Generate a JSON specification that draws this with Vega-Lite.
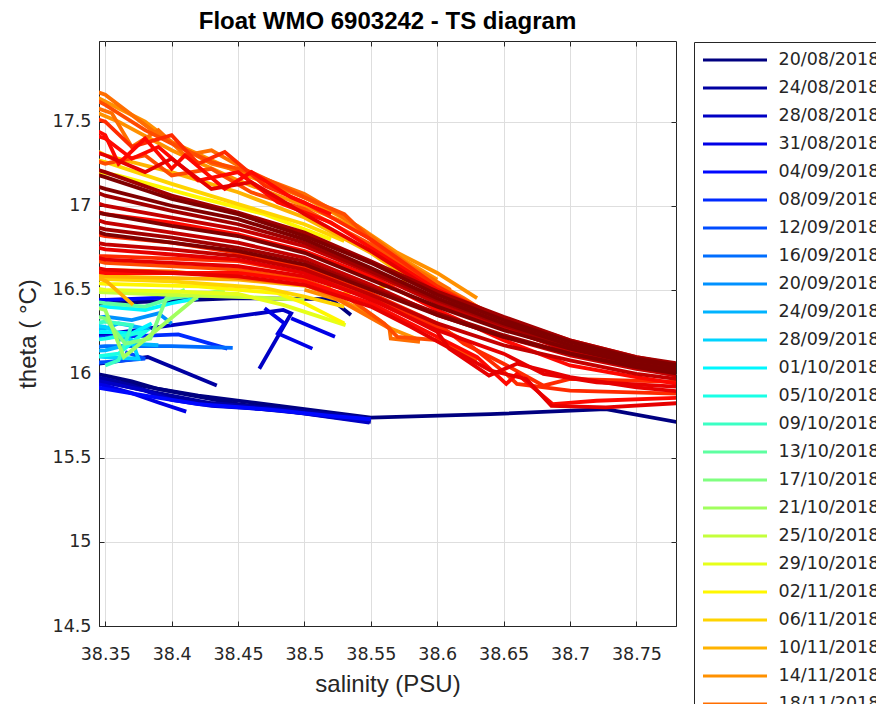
{
"$schema": "https://vega.github.io/schema/vega-lite/v6.json",
"autosize": {"type": "none"},
"width": 577, "height": 585,
"padding": {"left": 99, "top": 41, "right": 200, "bottom": 78},
"background": "white",
"title": {"text": "Float WMO 6903242 - TS diagram", "font": "Liberation Sans", "fontSize": 24, "fontWeight": "bold", "color": "#000000", "offset": 7, "anchor": "middle"},
"config": {
  "view": {"stroke": "#262626", "strokeWidth": 1},
  "axis": {"domainColor": "#262626", "tickColor": "#262626", "labelColor": "#262626", "titleColor": "#262626", "gridColor": "#dedede", "gridWidth": 1, "tickSize": -5, "labelFont": "DejaVu Sans", "labelFontSize": 17.5, "titleFont": "Liberation Sans", "titleFontSize": 24, "titleFontWeight": "normal"}
},
"data": {"values": [
{"d":"20/08/2018","g":"0a","s":38.33,"t":16.02},{"d":"20/08/2018","g":"0a","s":38.35,"t":15.99},{"d":"20/08/2018","g":"0a","s":38.37,"t":15.955},{"d":"20/08/2018","g":"0a","s":38.39,"t":15.91},{"d":"20/08/2018","g":"0a","s":38.42,"t":15.87},{"d":"20/08/2018","g":"0a","s":38.46,"t":15.83},{"d":"20/08/2018","g":"0a","s":38.5,"t":15.79},{"d":"20/08/2018","g":"0a","s":38.55,"t":15.74},{"d":"20/08/2018","g":"0a","s":38.64,"t":15.76},{"d":"20/08/2018","g":"0a","s":38.727,"t":15.79},{"d":"20/08/2018","g":"0a","s":38.79,"t":15.7},
{"d":"20/08/2018","g":"0b","s":38.33,"t":16.41},{"d":"20/08/2018","g":"0b","s":38.35,"t":16.42},{"d":"20/08/2018","g":"0b","s":38.45,"t":16.45},{"d":"20/08/2018","g":"0b","s":38.52,"t":16.445},{"d":"20/08/2018","g":"0b","s":38.535,"t":16.35},
{"d":"20/08/2018","g":"0c","s":38.33,"t":15.99},{"d":"20/08/2018","g":"0c","s":38.35,"t":15.965},{"d":"20/08/2018","g":"0c","s":38.38,"t":15.925},{"d":"20/08/2018","g":"0c","s":38.41,"t":15.88},{"d":"20/08/2018","g":"0c","s":38.45,"t":15.82},{"d":"20/08/2018","g":"0c","s":38.5,"t":15.775},{"d":"20/08/2018","g":"0c","s":38.548,"t":15.725},
{"d":"24/08/2018","g":"1a","s":38.33,"t":16.0},{"d":"24/08/2018","g":"1a","s":38.35,"t":15.97},{"d":"24/08/2018","g":"1a","s":38.37,"t":15.93},{"d":"24/08/2018","g":"1a","s":38.39,"t":15.875},{"d":"24/08/2018","g":"1a","s":38.42,"t":15.835},{"d":"24/08/2018","g":"1a","s":38.45,"t":15.805},{"d":"24/08/2018","g":"1a","s":38.5,"t":15.765},{"d":"24/08/2018","g":"1a","s":38.55,"t":15.715},
{"d":"24/08/2018","g":"1b","s":38.33,"t":16.05},{"d":"24/08/2018","g":"1b","s":38.35,"t":16.065},{"d":"24/08/2018","g":"1b","s":38.382,"t":16.1},{"d":"24/08/2018","g":"1b","s":38.434,"t":15.93},
{"d":"24/08/2018","g":"1c","s":38.33,"t":15.975},{"d":"24/08/2018","g":"1c","s":38.36,"t":15.935},{"d":"24/08/2018","g":"1c","s":38.39,"t":15.885},{"d":"24/08/2018","g":"1c","s":38.43,"t":15.825},{"d":"24/08/2018","g":"1c","s":38.49,"t":15.785},{"d":"24/08/2018","g":"1c","s":38.545,"t":15.74},
{"d":"28/08/2018","g":"2a","s":38.33,"t":15.98},{"d":"28/08/2018","g":"2a","s":38.35,"t":15.95},{"d":"28/08/2018","g":"2a","s":38.38,"t":15.9},{"d":"28/08/2018","g":"2a","s":38.4,"t":15.845},{"d":"28/08/2018","g":"2a","s":38.43,"t":15.81},{"d":"28/08/2018","g":"2a","s":38.48,"t":15.785},{"d":"28/08/2018","g":"2a","s":38.549,"t":15.71},
{"d":"28/08/2018","g":"2b","s":38.33,"t":16.22},{"d":"28/08/2018","g":"2b","s":38.346,"t":16.23},{"d":"28/08/2018","g":"2b","s":38.484,"t":16.38},{"d":"28/08/2018","g":"2b","s":38.49,"t":16.36},{"d":"28/08/2018","g":"2b","s":38.466,"t":16.03},
{"d":"31/08/2018","g":"3a","s":38.33,"t":15.96},{"d":"31/08/2018","g":"3a","s":38.35,"t":15.93},{"d":"31/08/2018","g":"3a","s":38.37,"t":15.885},{"d":"31/08/2018","g":"3a","s":38.39,"t":15.83},{"d":"31/08/2018","g":"3a","s":38.411,"t":15.775},
{"d":"31/08/2018","g":"3b","s":38.47,"t":16.39},{"d":"31/08/2018","g":"3b","s":38.485,"t":16.3},{"d":"31/08/2018","g":"3b","s":38.48,"t":16.24},{"d":"31/08/2018","g":"3b","s":38.506,"t":16.15},
{"d":"31/08/2018","g":"3c","s":38.49,"t":16.33},{"d":"31/08/2018","g":"3c","s":38.523,"t":16.22},
{"d":"04/09/2018","g":"4a","s":38.33,"t":15.94},{"d":"04/09/2018","g":"4a","s":38.35,"t":15.91},{"d":"04/09/2018","g":"4a","s":38.38,"t":15.87},{"d":"04/09/2018","g":"4a","s":38.42,"t":15.82},{"d":"04/09/2018","g":"4a","s":38.47,"t":15.79},{"d":"04/09/2018","g":"4a","s":38.52,"t":15.75},{"d":"04/09/2018","g":"4a","s":38.55,"t":15.73},
{"d":"04/09/2018","g":"4b","s":38.33,"t":16.44},{"d":"04/09/2018","g":"4b","s":38.35,"t":16.44},{"d":"04/09/2018","g":"4b","s":38.4,"t":16.455},{"d":"04/09/2018","g":"4b","s":38.43,"t":16.47},
{"d":"08/09/2018","g":"5a","s":38.33,"t":16.2},{"d":"08/09/2018","g":"5a","s":38.346,"t":16.215},{"d":"08/09/2018","g":"5a","s":38.405,"t":16.235},{"d":"08/09/2018","g":"5a","s":38.442,"t":16.15},
{"d":"12/09/2018","g":"6a","s":38.33,"t":16.06},{"d":"12/09/2018","g":"6a","s":38.35,"t":16.07},{"d":"12/09/2018","g":"6a","s":38.38,"t":16.09},{"d":"12/09/2018","g":"6a","s":38.365,"t":16.13},
{"d":"16/09/2018","g":"7a","s":38.33,"t":16.15},{"d":"16/09/2018","g":"7a","s":38.35,"t":16.165},{"d":"16/09/2018","g":"7a","s":38.4,"t":16.165},{"d":"16/09/2018","g":"7a","s":38.446,"t":16.155},
{"d":"20/09/2018","g":"8a","s":38.33,"t":16.32},{"d":"20/09/2018","g":"8a","s":38.35,"t":16.34},{"d":"20/09/2018","g":"8a","s":38.37,"t":16.32},{"d":"20/09/2018","g":"8a","s":38.39,"t":16.36},{"d":"20/09/2018","g":"8a","s":38.4,"t":16.3},
{"d":"24/09/2018","g":"9a","s":38.33,"t":16.26},{"d":"24/09/2018","g":"9a","s":38.35,"t":16.27},{"d":"24/09/2018","g":"9a","s":38.36,"t":16.3},{"d":"24/09/2018","g":"9a","s":38.38,"t":16.27},{"d":"24/09/2018","g":"9a","s":38.36,"t":16.2},
{"d":"24/09/2018","g":"9b","s":38.33,"t":16.13},{"d":"24/09/2018","g":"9b","s":38.35,"t":16.14},{"d":"24/09/2018","g":"9b","s":38.37,"t":16.18},{"d":"24/09/2018","g":"9b","s":38.39,"t":16.17},
{"d":"28/09/2018","g":"10a","s":38.33,"t":16.11},{"d":"28/09/2018","g":"10a","s":38.35,"t":16.1},{"d":"28/09/2018","g":"10a","s":38.375,"t":16.09},{"d":"28/09/2018","g":"10a","s":38.37,"t":16.2},{"d":"28/09/2018","g":"10a","s":38.35,"t":16.28},{"d":"28/09/2018","g":"10a","s":38.33,"t":16.3},
{"d":"01/10/2018","g":"11a","s":38.33,"t":16.38},{"d":"01/10/2018","g":"11a","s":38.35,"t":16.4},{"d":"01/10/2018","g":"11a","s":38.38,"t":16.38},{"d":"01/10/2018","g":"11a","s":38.4,"t":16.42},{"d":"01/10/2018","g":"11a","s":38.42,"t":16.45},
{"d":"01/10/2018","g":"11b","s":38.33,"t":16.24},{"d":"01/10/2018","g":"11b","s":38.35,"t":16.25},{"d":"01/10/2018","g":"11b","s":38.37,"t":16.24},{"d":"01/10/2018","g":"11b","s":38.385,"t":16.3},
{"d":"05/10/2018","g":"12a","s":38.33,"t":16.19},{"d":"05/10/2018","g":"12a","s":38.35,"t":16.21},{"d":"05/10/2018","g":"12a","s":38.38,"t":16.25},{"d":"05/10/2018","g":"12a","s":38.36,"t":16.12},{"d":"05/10/2018","g":"12a","s":38.33,"t":16.09},
{"d":"09/10/2018","g":"13a","s":38.33,"t":16.29},{"d":"09/10/2018","g":"13a","s":38.35,"t":16.31},{"d":"09/10/2018","g":"13a","s":38.37,"t":16.29},{"d":"09/10/2018","g":"13a","s":38.36,"t":16.08},{"d":"09/10/2018","g":"13a","s":38.35,"t":16.05},
{"d":"13/10/2018","g":"14a","s":38.33,"t":16.44},{"d":"13/10/2018","g":"14a","s":38.35,"t":16.42},{"d":"13/10/2018","g":"14a","s":38.38,"t":16.4},{"d":"13/10/2018","g":"14a","s":38.4,"t":16.45},{"d":"13/10/2018","g":"14a","s":38.43,"t":16.48},
{"d":"17/10/2018","g":"15a","s":38.33,"t":16.36},{"d":"17/10/2018","g":"15a","s":38.35,"t":16.33},{"d":"17/10/2018","g":"15a","s":38.365,"t":16.18},{"d":"17/10/2018","g":"15a","s":38.384,"t":16.21},{"d":"17/10/2018","g":"15a","s":38.396,"t":16.45},{"d":"17/10/2018","g":"15a","s":38.41,"t":16.5},
{"d":"21/10/2018","g":"16a","s":38.33,"t":16.42},{"d":"21/10/2018","g":"16a","s":38.35,"t":16.38},{"d":"21/10/2018","g":"16a","s":38.364,"t":16.1},{"d":"21/10/2018","g":"16a","s":38.421,"t":16.47},{"d":"21/10/2018","g":"16a","s":38.44,"t":16.5},
{"d":"25/10/2018","g":"17a","s":38.33,"t":16.49},{"d":"25/10/2018","g":"17a","s":38.35,"t":16.485},{"d":"25/10/2018","g":"17a","s":38.4,"t":16.47},{"d":"25/10/2018","g":"17a","s":38.46,"t":16.455},{"d":"25/10/2018","g":"17a","s":38.5,"t":16.44},
{"d":"29/10/2018","g":"18a","s":38.33,"t":16.52},{"d":"29/10/2018","g":"18a","s":38.35,"t":16.5},{"d":"29/10/2018","g":"18a","s":38.4,"t":16.49},{"d":"29/10/2018","g":"18a","s":38.45,"t":16.475},{"d":"29/10/2018","g":"18a","s":38.484,"t":16.41},{"d":"29/10/2018","g":"18a","s":38.531,"t":16.29},
{"d":"02/11/2018","g":"19a","s":38.33,"t":16.55},{"d":"02/11/2018","g":"19a","s":38.35,"t":16.535},{"d":"02/11/2018","g":"19a","s":38.42,"t":16.52},{"d":"02/11/2018","g":"19a","s":38.48,"t":16.48},{"d":"02/11/2018","g":"19a","s":38.5,"t":16.42},{"d":"02/11/2018","g":"19a","s":38.53,"t":16.3},
{"d":"02/11/2018","g":"19b","s":38.33,"t":17.22},{"d":"02/11/2018","g":"19b","s":38.36,"t":17.18},{"d":"02/11/2018","g":"19b","s":38.42,"t":17.05},{"d":"02/11/2018","g":"19b","s":38.47,"t":16.95},{"d":"02/11/2018","g":"19b","s":38.5,"t":16.86},{"d":"02/11/2018","g":"19b","s":38.52,"t":16.8},
{"d":"06/11/2018","g":"20a","s":38.33,"t":16.57},{"d":"06/11/2018","g":"20a","s":38.4,"t":16.55},{"d":"06/11/2018","g":"20a","s":38.47,"t":16.51},{"d":"06/11/2018","g":"20a","s":38.5,"t":16.46},{"d":"06/11/2018","g":"20a","s":38.53,"t":16.4},
{"d":"06/11/2018","g":"20b","s":38.33,"t":17.3},{"d":"06/11/2018","g":"20b","s":38.35,"t":17.26},{"d":"06/11/2018","g":"20b","s":38.4,"t":17.13},{"d":"06/11/2018","g":"20b","s":38.45,"t":17.01},{"d":"06/11/2018","g":"20b","s":38.5,"t":16.89},{"d":"06/11/2018","g":"20b","s":38.53,"t":16.79},
{"d":"10/11/2018","g":"21a","s":38.33,"t":17.38},{"d":"10/11/2018","g":"21a","s":38.35,"t":17.3},{"d":"10/11/2018","g":"21a","s":38.4,"t":17.2},{"d":"10/11/2018","g":"21a","s":38.45,"t":17.08},{"d":"10/11/2018","g":"21a","s":38.5,"t":16.93},{"d":"10/11/2018","g":"21a","s":38.55,"t":16.72},{"d":"10/11/2018","g":"21a","s":38.58,"t":16.56},{"d":"10/11/2018","g":"21a","s":38.55,"t":16.5},{"d":"10/11/2018","g":"21a","s":38.52,"t":16.47},
{"d":"10/11/2018","g":"21b","s":38.33,"t":16.6},{"d":"10/11/2018","g":"21b","s":38.35,"t":16.58},{"d":"10/11/2018","g":"21b","s":38.45,"t":16.56},{"d":"10/11/2018","g":"21b","s":38.52,"t":16.51},
{"d":"10/11/2018","g":"21c","s":38.345,"t":16.57},{"d":"10/11/2018","g":"21c","s":38.351,"t":16.55},{"d":"10/11/2018","g":"21c","s":38.371,"t":16.41},
{"d":"14/11/2018","g":"22a","s":38.33,"t":17.7},{"d":"14/11/2018","g":"22a","s":38.35,"t":17.62},{"d":"14/11/2018","g":"22a","s":38.38,"t":17.5},{"d":"14/11/2018","g":"22a","s":38.4,"t":17.38},{"d":"14/11/2018","g":"22a","s":38.45,"t":17.2},{"d":"14/11/2018","g":"22a","s":38.5,"t":17.05},{"d":"14/11/2018","g":"22a","s":38.54,"t":16.88},{"d":"14/11/2018","g":"22a","s":38.57,"t":16.72},{"d":"14/11/2018","g":"22a","s":38.6,"t":16.6},{"d":"14/11/2018","g":"22a","s":38.63,"t":16.45},
{"d":"14/11/2018","g":"22b","s":38.5,"t":16.5},{"d":"14/11/2018","g":"22b","s":38.53,"t":16.43},{"d":"14/11/2018","g":"22b","s":38.55,"t":16.35},{"d":"14/11/2018","g":"22b","s":38.565,"t":16.27},{"d":"14/11/2018","g":"22b","s":38.587,"t":16.2},
{"d":"14/11/2018","g":"22c","s":38.33,"t":17.6},{"d":"14/11/2018","g":"22c","s":38.36,"t":17.5},{"d":"14/11/2018","g":"22c","s":38.4,"t":17.33},{"d":"14/11/2018","g":"22c","s":38.45,"t":17.15},{"d":"14/11/2018","g":"22c","s":38.5,"t":17.0},{"d":"14/11/2018","g":"22c","s":38.53,"t":16.9},{"d":"14/11/2018","g":"22c","s":38.56,"t":16.75},{"d":"14/11/2018","g":"22c","s":38.6,"t":16.56},
{"d":"18/11/2018","g":"23a","s":38.33,"t":17.72},{"d":"18/11/2018","g":"23a","s":38.35,"t":17.66},{"d":"18/11/2018","g":"23a","s":38.36,"t":17.6},{"d":"18/11/2018","g":"23a","s":38.39,"t":17.42},{"d":"18/11/2018","g":"23a","s":38.43,"t":17.25},{"d":"18/11/2018","g":"23a","s":38.46,"t":17.19},{"d":"18/11/2018","g":"23a","s":38.5,"t":17.07},{"d":"18/11/2018","g":"23a","s":38.526,"t":16.95},{"d":"18/11/2018","g":"23a","s":38.545,"t":16.85},{"d":"18/11/2018","g":"23a","s":38.565,"t":16.68},{"d":"18/11/2018","g":"23a","s":38.59,"t":16.58},{"d":"18/11/2018","g":"23a","s":38.62,"t":16.45},{"d":"18/11/2018","g":"23a","s":38.64,"t":16.35},
{"d":"18/11/2018","g":"23b","s":38.33,"t":16.62},{"d":"18/11/2018","g":"23b","s":38.4,"t":16.61},{"d":"18/11/2018","g":"23b","s":38.5,"t":16.53},{"d":"18/11/2018","g":"23b","s":38.519,"t":16.47},{"d":"18/11/2018","g":"23b","s":38.564,"t":16.27},{"d":"18/11/2018","g":"23b","s":38.565,"t":16.21},{"d":"18/11/2018","g":"23b","s":38.587,"t":16.19},
{"d":"18/11/2018","g":"23c","s":38.33,"t":17.62},{"d":"18/11/2018","g":"23c","s":38.355,"t":17.55},{"d":"18/11/2018","g":"23c","s":38.37,"t":17.35},{"d":"18/11/2018","g":"23c","s":38.39,"t":17.45},{"d":"18/11/2018","g":"23c","s":38.41,"t":17.3},{"d":"18/11/2018","g":"23c","s":38.43,"t":17.33},{"d":"18/11/2018","g":"23c","s":38.47,"t":17.15},{"d":"18/11/2018","g":"23c","s":38.52,"t":16.98},{"d":"18/11/2018","g":"23c","s":38.55,"t":16.82},{"d":"18/11/2018","g":"23c","s":38.58,"t":16.64},{"d":"18/11/2018","g":"23c","s":38.61,"t":16.5},
{"d":"22/11/2018","g":"24a","s":38.33,"t":17.68},{"d":"22/11/2018","g":"24a","s":38.35,"t":17.6},{"d":"22/11/2018","g":"24a","s":38.38,"t":17.45},{"d":"22/11/2018","g":"24a","s":38.4,"t":17.37},{"d":"22/11/2018","g":"24a","s":38.43,"t":17.26},{"d":"22/11/2018","g":"24a","s":38.46,"t":17.2},{"d":"22/11/2018","g":"24a","s":38.5,"t":17.05},{"d":"22/11/2018","g":"24a","s":38.53,"t":16.95},{"d":"22/11/2018","g":"24a","s":38.56,"t":16.72},{"d":"22/11/2018","g":"24a","s":38.6,"t":16.52},{"d":"22/11/2018","g":"24a","s":38.65,"t":16.32},{"d":"22/11/2018","g":"24a","s":38.7,"t":16.18},{"d":"22/11/2018","g":"24a","s":38.79,"t":16.02},
{"d":"22/11/2018","g":"24b","s":38.33,"t":16.7},{"d":"22/11/2018","g":"24b","s":38.35,"t":16.66},{"d":"22/11/2018","g":"24b","s":38.45,"t":16.62},{"d":"22/11/2018","g":"24b","s":38.5,"t":16.56},{"d":"22/11/2018","g":"24b","s":38.53,"t":16.47},{"d":"22/11/2018","g":"24b","s":38.56,"t":16.3},{"d":"22/11/2018","g":"24b","s":38.57,"t":16.22},{"d":"22/11/2018","g":"24b","s":38.6,"t":16.2},{"d":"22/11/2018","g":"24b","s":38.63,"t":16.08},
{"d":"22/11/2018","g":"24c","s":38.33,"t":17.3},{"d":"22/11/2018","g":"24c","s":38.35,"t":17.25},{"d":"22/11/2018","g":"24c","s":38.38,"t":17.3},{"d":"22/11/2018","g":"24c","s":38.4,"t":17.18},{"d":"22/11/2018","g":"24c","s":38.43,"t":17.22},{"d":"22/11/2018","g":"24c","s":38.46,"t":17.08},{"d":"22/11/2018","g":"24c","s":38.5,"t":16.98},{"d":"22/11/2018","g":"24c","s":38.55,"t":16.77},{"d":"22/11/2018","g":"24c","s":38.6,"t":16.5},
{"d":"26/11/2018","g":"25a","s":38.33,"t":17.55},{"d":"26/11/2018","g":"25a","s":38.35,"t":17.5},{"d":"26/11/2018","g":"25a","s":38.37,"t":17.35},{"d":"26/11/2018","g":"25a","s":38.4,"t":17.42},{"d":"26/11/2018","g":"25a","s":38.42,"t":17.25},{"d":"26/11/2018","g":"25a","s":38.44,"t":17.32},{"d":"26/11/2018","g":"25a","s":38.47,"t":17.12},{"d":"26/11/2018","g":"25a","s":38.5,"t":17.02},{"d":"26/11/2018","g":"25a","s":38.55,"t":16.8},{"d":"26/11/2018","g":"25a","s":38.6,"t":16.52},{"d":"26/11/2018","g":"25a","s":38.65,"t":16.3},{"d":"26/11/2018","g":"25a","s":38.7,"t":16.16},{"d":"26/11/2018","g":"25a","s":38.75,"t":16.06},{"d":"26/11/2018","g":"25a","s":38.79,"t":16.0},
{"d":"26/11/2018","g":"25b","s":38.33,"t":16.85},{"d":"26/11/2018","g":"25b","s":38.35,"t":16.82},{"d":"26/11/2018","g":"25b","s":38.4,"t":16.78},{"d":"26/11/2018","g":"25b","s":38.45,"t":16.72},{"d":"26/11/2018","g":"25b","s":38.5,"t":16.63},{"d":"26/11/2018","g":"25b","s":38.55,"t":16.48},{"d":"26/11/2018","g":"25b","s":38.6,"t":16.3},{"d":"26/11/2018","g":"25b","s":38.62,"t":16.18},{"d":"26/11/2018","g":"25b","s":38.65,"t":16.06},{"d":"26/11/2018","g":"25b","s":38.68,"t":15.93},{"d":"26/11/2018","g":"25b","s":38.7,"t":15.97},{"d":"26/11/2018","g":"25b","s":38.79,"t":15.95},
{"d":"26/11/2018","g":"25c","s":38.33,"t":16.7},{"d":"26/11/2018","g":"25c","s":38.35,"t":16.7},{"d":"26/11/2018","g":"25c","s":38.45,"t":16.67},{"d":"26/11/2018","g":"25c","s":38.5,"t":16.6},{"d":"26/11/2018","g":"25c","s":38.55,"t":16.46},{"d":"26/11/2018","g":"25c","s":38.6,"t":16.28},{"d":"26/11/2018","g":"25c","s":38.62,"t":16.2},{"d":"26/11/2018","g":"25c","s":38.652,"t":16.0},{"d":"26/11/2018","g":"25c","s":38.66,"t":15.94},{"d":"26/11/2018","g":"25c","s":38.7,"t":15.9},{"d":"26/11/2018","g":"25c","s":38.79,"t":15.88},
{"d":"30/11/2018","g":"26a","s":38.33,"t":17.45},{"d":"30/11/2018","g":"26a","s":38.35,"t":17.4},{"d":"30/11/2018","g":"26a","s":38.37,"t":17.28},{"d":"30/11/2018","g":"26a","s":38.39,"t":17.35},{"d":"30/11/2018","g":"26a","s":38.42,"t":17.15},{"d":"30/11/2018","g":"26a","s":38.45,"t":17.2},{"d":"30/11/2018","g":"26a","s":38.48,"t":17.02},{"d":"30/11/2018","g":"26a","s":38.52,"t":16.9},{"d":"30/11/2018","g":"26a","s":38.55,"t":16.75},{"d":"30/11/2018","g":"26a","s":38.6,"t":16.5},{"d":"30/11/2018","g":"26a","s":38.65,"t":16.33},{"d":"30/11/2018","g":"26a","s":38.7,"t":16.2},{"d":"30/11/2018","g":"26a","s":38.75,"t":16.1},{"d":"30/11/2018","g":"26a","s":38.79,"t":16.04},
{"d":"30/11/2018","g":"26b","s":38.33,"t":16.62},{"d":"30/11/2018","g":"26b","s":38.35,"t":16.6},{"d":"30/11/2018","g":"26b","s":38.45,"t":16.6},{"d":"30/11/2018","g":"26b","s":38.5,"t":16.55},{"d":"30/11/2018","g":"26b","s":38.55,"t":16.42},{"d":"30/11/2018","g":"26b","s":38.6,"t":16.22},{"d":"30/11/2018","g":"26b","s":38.63,"t":16.1},{"d":"30/11/2018","g":"26b","s":38.652,"t":15.94},{"d":"30/11/2018","g":"26b","s":38.66,"t":16.0},{"d":"30/11/2018","g":"26b","s":38.687,"t":15.82},{"d":"30/11/2018","g":"26b","s":38.72,"t":15.84},{"d":"30/11/2018","g":"26b","s":38.79,"t":15.86},
{"d":"30/11/2018","g":"26c","s":38.33,"t":17.0},{"d":"30/11/2018","g":"26c","s":38.35,"t":16.95},{"d":"30/11/2018","g":"26c","s":38.4,"t":16.9},{"d":"30/11/2018","g":"26c","s":38.45,"t":16.83},{"d":"30/11/2018","g":"26c","s":38.5,"t":16.73},{"d":"30/11/2018","g":"26c","s":38.55,"t":16.58},{"d":"30/11/2018","g":"26c","s":38.6,"t":16.38},{"d":"30/11/2018","g":"26c","s":38.65,"t":16.2},{"d":"30/11/2018","g":"26c","s":38.7,"t":16.05},{"d":"30/11/2018","g":"26c","s":38.75,"t":15.98},{"d":"30/11/2018","g":"26c","s":38.79,"t":15.93},
{"d":"30/11/2018","g":"26d","s":38.33,"t":17.5},{"d":"30/11/2018","g":"26d","s":38.35,"t":17.42},{"d":"30/11/2018","g":"26d","s":38.36,"t":17.25},{"d":"30/11/2018","g":"26d","s":38.38,"t":17.4},{"d":"30/11/2018","g":"26d","s":38.4,"t":17.22},{"d":"30/11/2018","g":"26d","s":38.41,"t":17.3},{"d":"30/11/2018","g":"26d","s":38.44,"t":17.1},{"d":"30/11/2018","g":"26d","s":38.46,"t":17.2},{"d":"30/11/2018","g":"26d","s":38.49,"t":17.05},{"d":"30/11/2018","g":"26d","s":38.52,"t":16.95},
{"d":"04/12/2018","g":"27a","s":38.33,"t":16.72},{"d":"04/12/2018","g":"27a","s":38.35,"t":16.68},{"d":"04/12/2018","g":"27a","s":38.4,"t":16.66},{"d":"04/12/2018","g":"27a","s":38.45,"t":16.64},{"d":"04/12/2018","g":"27a","s":38.5,"t":16.58},{"d":"04/12/2018","g":"27a","s":38.55,"t":16.45},{"d":"04/12/2018","g":"27a","s":38.6,"t":16.25},{"d":"04/12/2018","g":"27a","s":38.609,"t":16.15},{"d":"04/12/2018","g":"27a","s":38.639,"t":15.99},{"d":"04/12/2018","g":"27a","s":38.66,"t":16.06},{"d":"04/12/2018","g":"27a","s":38.7,"t":15.98},{"d":"04/12/2018","g":"27a","s":38.75,"t":15.92},{"d":"04/12/2018","g":"27a","s":38.79,"t":15.89},
{"d":"04/12/2018","g":"27b","s":38.33,"t":16.65},{"d":"04/12/2018","g":"27b","s":38.35,"t":16.62},{"d":"04/12/2018","g":"27b","s":38.4,"t":16.6},{"d":"04/12/2018","g":"27b","s":38.45,"t":16.58},{"d":"04/12/2018","g":"27b","s":38.5,"t":16.53},{"d":"04/12/2018","g":"27b","s":38.55,"t":16.4},{"d":"04/12/2018","g":"27b","s":38.58,"t":16.28},{"d":"04/12/2018","g":"27b","s":38.61,"t":16.15},{"d":"04/12/2018","g":"27b","s":38.64,"t":16.02},{"d":"04/12/2018","g":"27b","s":38.667,"t":15.97},{"d":"04/12/2018","g":"27b","s":38.686,"t":15.81},{"d":"04/12/2018","g":"27b","s":38.727,"t":15.8},{"d":"04/12/2018","g":"27b","s":38.79,"t":15.83},
{"d":"04/12/2018","g":"27c","s":38.33,"t":17.35},{"d":"04/12/2018","g":"27c","s":38.35,"t":17.3},{"d":"04/12/2018","g":"27c","s":38.38,"t":17.2},{"d":"04/12/2018","g":"27c","s":38.4,"t":17.28},{"d":"04/12/2018","g":"27c","s":38.43,"t":17.1},{"d":"04/12/2018","g":"27c","s":38.46,"t":17.14},{"d":"04/12/2018","g":"27c","s":38.5,"t":16.95},{"d":"04/12/2018","g":"27c","s":38.55,"t":16.73},{"d":"04/12/2018","g":"27c","s":38.6,"t":16.48},{"d":"04/12/2018","g":"27c","s":38.65,"t":16.28},{"d":"04/12/2018","g":"27c","s":38.7,"t":16.13},{"d":"04/12/2018","g":"27c","s":38.79,"t":15.97},
{"d":"04/12/2018","g":"27d","s":38.33,"t":16.78},{"d":"04/12/2018","g":"27d","s":38.35,"t":16.74},{"d":"04/12/2018","g":"27d","s":38.4,"t":16.71},{"d":"04/12/2018","g":"27d","s":38.45,"t":16.68},{"d":"04/12/2018","g":"27d","s":38.5,"t":16.6},{"d":"04/12/2018","g":"27d","s":38.55,"t":16.44},{"d":"04/12/2018","g":"27d","s":38.6,"t":16.26},{"d":"04/12/2018","g":"27d","s":38.65,"t":16.12},{"d":"04/12/2018","g":"27d","s":38.68,"t":16.0},{"d":"04/12/2018","g":"27d","s":38.72,"t":15.95},{"d":"04/12/2018","g":"27d","s":38.79,"t":15.92},
{"d":"08/12/2018","g":"28a","s":38.33,"t":17.05},{"d":"08/12/2018","g":"28a","s":38.35,"t":17.0},{"d":"08/12/2018","g":"28a","s":38.4,"t":16.93},{"d":"08/12/2018","g":"28a","s":38.45,"t":16.86},{"d":"08/12/2018","g":"28a","s":38.5,"t":16.76},{"d":"08/12/2018","g":"28a","s":38.55,"t":16.6},{"d":"08/12/2018","g":"28a","s":38.6,"t":16.42},{"d":"08/12/2018","g":"28a","s":38.65,"t":16.27},{"d":"08/12/2018","g":"28a","s":38.7,"t":16.14},{"d":"08/12/2018","g":"28a","s":38.75,"t":16.05},{"d":"08/12/2018","g":"28a","s":38.79,"t":16.0},
{"d":"08/12/2018","g":"28b","s":38.33,"t":16.8},{"d":"08/12/2018","g":"28b","s":38.35,"t":16.77},{"d":"08/12/2018","g":"28b","s":38.4,"t":16.74},{"d":"08/12/2018","g":"28b","s":38.45,"t":16.7},{"d":"08/12/2018","g":"28b","s":38.5,"t":16.62},{"d":"08/12/2018","g":"28b","s":38.55,"t":16.47},{"d":"08/12/2018","g":"28b","s":38.6,"t":16.3},{"d":"08/12/2018","g":"28b","s":38.65,"t":16.17},{"d":"08/12/2018","g":"28b","s":38.7,"t":16.08},{"d":"08/12/2018","g":"28b","s":38.75,"t":16.0},{"d":"08/12/2018","g":"28b","s":38.79,"t":15.96},
{"d":"08/12/2018","g":"28c","s":38.33,"t":16.95},{"d":"08/12/2018","g":"28c","s":38.35,"t":16.9},{"d":"08/12/2018","g":"28c","s":38.4,"t":16.84},{"d":"08/12/2018","g":"28c","s":38.45,"t":16.78},{"d":"08/12/2018","g":"28c","s":38.5,"t":16.69},{"d":"08/12/2018","g":"28c","s":38.55,"t":16.53},{"d":"08/12/2018","g":"28c","s":38.6,"t":16.35},{"d":"08/12/2018","g":"28c","s":38.65,"t":16.22},{"d":"08/12/2018","g":"28c","s":38.7,"t":16.11},{"d":"08/12/2018","g":"28c","s":38.75,"t":16.03},{"d":"08/12/2018","g":"28c","s":38.79,"t":15.98},
{"d":"12/12/2018","g":"29a","s":38.33,"t":17.25},{"d":"12/12/2018","g":"29a","s":38.35,"t":17.2},{"d":"12/12/2018","g":"29a","s":38.4,"t":17.06},{"d":"12/12/2018","g":"29a","s":38.45,"t":16.96},{"d":"12/12/2018","g":"29a","s":38.5,"t":16.84},{"d":"12/12/2018","g":"29a","s":38.55,"t":16.67},{"d":"12/12/2018","g":"29a","s":38.6,"t":16.49},{"d":"12/12/2018","g":"29a","s":38.65,"t":16.34},{"d":"12/12/2018","g":"29a","s":38.7,"t":16.2},{"d":"12/12/2018","g":"29a","s":38.75,"t":16.1},{"d":"12/12/2018","g":"29a","s":38.79,"t":16.05},
{"d":"12/12/2018","g":"29b","s":38.33,"t":16.9},{"d":"12/12/2018","g":"29b","s":38.35,"t":16.86},{"d":"12/12/2018","g":"29b","s":38.4,"t":16.81},{"d":"12/12/2018","g":"29b","s":38.45,"t":16.75},{"d":"12/12/2018","g":"29b","s":38.5,"t":16.67},{"d":"12/12/2018","g":"29b","s":38.55,"t":16.51},{"d":"12/12/2018","g":"29b","s":38.6,"t":16.36},{"d":"12/12/2018","g":"29b","s":38.65,"t":16.23},{"d":"12/12/2018","g":"29b","s":38.7,"t":16.12},{"d":"12/12/2018","g":"29b","s":38.75,"t":16.04},{"d":"12/12/2018","g":"29b","s":38.79,"t":16.0},
{"d":"12/12/2018","g":"29c","s":38.33,"t":17.12},{"d":"12/12/2018","g":"29c","s":38.35,"t":17.06},{"d":"12/12/2018","g":"29c","s":38.4,"t":16.97},{"d":"12/12/2018","g":"29c","s":38.45,"t":16.89},{"d":"12/12/2018","g":"29c","s":38.5,"t":16.78},{"d":"12/12/2018","g":"29c","s":38.55,"t":16.61},{"d":"12/12/2018","g":"29c","s":38.6,"t":16.44},{"d":"12/12/2018","g":"29c","s":38.65,"t":16.29},{"d":"12/12/2018","g":"29c","s":38.7,"t":16.16},{"d":"12/12/2018","g":"29c","s":38.75,"t":16.07},{"d":"12/12/2018","g":"29c","s":38.79,"t":16.02},
{"d":"16/12/2018","g":"30a","s":38.33,"t":17.15},{"d":"16/12/2018","g":"30a","s":38.35,"t":17.1},{"d":"16/12/2018","g":"30a","s":38.4,"t":17.0},{"d":"16/12/2018","g":"30a","s":38.45,"t":16.92},{"d":"16/12/2018","g":"30a","s":38.5,"t":16.8},{"d":"16/12/2018","g":"30a","s":38.55,"t":16.63},{"d":"16/12/2018","g":"30a","s":38.6,"t":16.45},{"d":"16/12/2018","g":"30a","s":38.65,"t":16.3},{"d":"16/12/2018","g":"30a","s":38.7,"t":16.17},{"d":"16/12/2018","g":"30a","s":38.75,"t":16.08},{"d":"16/12/2018","g":"30a","s":38.79,"t":16.03},
{"d":"16/12/2018","g":"30b","s":38.33,"t":16.98},{"d":"16/12/2018","g":"30b","s":38.35,"t":16.95},{"d":"16/12/2018","g":"30b","s":38.4,"t":16.88},{"d":"16/12/2018","g":"30b","s":38.45,"t":16.82},{"d":"16/12/2018","g":"30b","s":38.5,"t":16.72},{"d":"16/12/2018","g":"30b","s":38.55,"t":16.56},{"d":"16/12/2018","g":"30b","s":38.6,"t":16.4},{"d":"16/12/2018","g":"30b","s":38.65,"t":16.26},{"d":"16/12/2018","g":"30b","s":38.7,"t":16.15},{"d":"16/12/2018","g":"30b","s":38.75,"t":16.06},{"d":"16/12/2018","g":"30b","s":38.79,"t":16.01},
{"d":"16/12/2018","g":"30c","s":38.33,"t":16.88},{"d":"16/12/2018","g":"30c","s":38.35,"t":16.83},{"d":"16/12/2018","g":"30c","s":38.4,"t":16.78},{"d":"16/12/2018","g":"30c","s":38.45,"t":16.73},{"d":"16/12/2018","g":"30c","s":38.5,"t":16.65},{"d":"16/12/2018","g":"30c","s":38.55,"t":16.5},{"d":"16/12/2018","g":"30c","s":38.6,"t":16.35},{"d":"16/12/2018","g":"30c","s":38.65,"t":16.22},{"d":"16/12/2018","g":"30c","s":38.7,"t":16.12},{"d":"16/12/2018","g":"30c","s":38.75,"t":16.04},{"d":"16/12/2018","g":"30c","s":38.79,"t":15.99},
{"d":"16/12/2018","g":"30d","s":38.33,"t":17.22},{"d":"16/12/2018","g":"30d","s":38.35,"t":17.17},{"d":"16/12/2018","g":"30d","s":38.4,"t":17.04},{"d":"16/12/2018","g":"30d","s":38.45,"t":16.95},{"d":"16/12/2018","g":"30d","s":38.5,"t":16.82},{"d":"16/12/2018","g":"30d","s":38.55,"t":16.66},{"d":"16/12/2018","g":"30d","s":38.6,"t":16.47},{"d":"16/12/2018","g":"30d","s":38.65,"t":16.32},{"d":"16/12/2018","g":"30d","s":38.7,"t":16.19},{"d":"16/12/2018","g":"30d","s":38.75,"t":16.09},{"d":"16/12/2018","g":"30d","s":38.79,"t":16.04}
]},
"layer": [
  {
    "mark": {"type": "line", "strokeWidth": 3.8, "clip": true},
    "encoding": {
      "x": {"field": "s", "type": "quantitative", "scale": {"domain": [38.3453, 38.7798], "nice": false, "zero": false},
            "axis": {"orient": "bottom", "title": "salinity (PSU)", "values": [38.35, 38.4, 38.45, 38.5, 38.55, 38.6, 38.65, 38.7, 38.75], "format": ".2~f", "grid": true, "labelPadding": 24, "titlePadding": 10, "domain": true}},
      "y": {"field": "t", "type": "quantitative", "scale": {"domain": [14.5, 17.98], "nice": false, "zero": false},
            "axis": {"orient": "left", "title": "theta ( °C)", "values": [14.5, 15, 15.5, 16, 16.5, 17, 17.5], "format": ".1~f", "grid": true, "labelPadding": 13, "titlePadding": 12, "domain": true}},
      "color": {"field": "d", "type": "nominal",
        "scale": {
          "domain": ["20/08/2018","24/08/2018","28/08/2018","31/08/2018","04/09/2018","08/09/2018","12/09/2018","16/09/2018","20/09/2018","24/09/2018","28/09/2018","01/10/2018","05/10/2018","09/10/2018","13/10/2018","17/10/2018","21/10/2018","25/10/2018","29/10/2018","02/11/2018","06/11/2018","10/11/2018","14/11/2018","18/11/2018","22/11/2018","26/11/2018","30/11/2018","04/12/2018","08/12/2018","12/12/2018","16/12/2018"],
          "range": ["#000080","#0000a1","#0000c4","#0000e6","#0008ff","#002bff","#004cff","#006eff","#0091ff","#00b3ff","#00d4ff","#00f7ff","#1affe6","#3bffc4","#5effa1","#80ff80","#a1ff5e","#c4ff3b","#e6ff1a","#fff700","#ffd400","#ffb300","#ff9100","#ff6e00","#ff4c00","#ff2b00","#ff0800","#e60000","#c40000","#a10000","#800000"]
        },
        "legend": {"title": null, "orient": "none", "legendX": 595, "legendY": 1, "direction": "vertical", "symbolType": "stroke", "symbolSize": 4096, "symbolStrokeWidth": 3, "clipHeight": 28, "rowPadding": 0, "padding": 4, "strokeColor": "#262626", "fillColor": "#ffffff", "labelFont": "DejaVu Sans", "labelFontSize": 17.5, "labelColor": "#262626", "labelOffset": 10, "symbolOffset": 3.5, "labelLimit": 400, "symbolOpacity": 1}
      },
      "detail": {"field": "g"},
      "order": {"value": null}
    }
  },
  {
    "mark": {"type": "point", "opacity": 0, "clip": true},
    "encoding": {
      "x": {"field": "s", "type": "quantitative", "scale": {"domain": [38.3453, 38.7798], "nice": false, "zero": false},
            "axis": {"orient": "top", "title": null, "labels": false, "grid": false, "domain": false, "values": [38.35, 38.4, 38.45, 38.5, 38.55, 38.6, 38.65, 38.7, 38.75]}},
      "y": {"field": "t", "type": "quantitative", "scale": {"domain": [14.5, 17.98], "nice": false, "zero": false},
            "axis": {"orient": "right", "title": null, "labels": false, "grid": false, "domain": false, "values": [14.5, 15, 15.5, 16, 16.5, 17, 17.5]}}
    }
  }
],
"resolve": {"axis": {"x": "independent", "y": "independent"}}
}
